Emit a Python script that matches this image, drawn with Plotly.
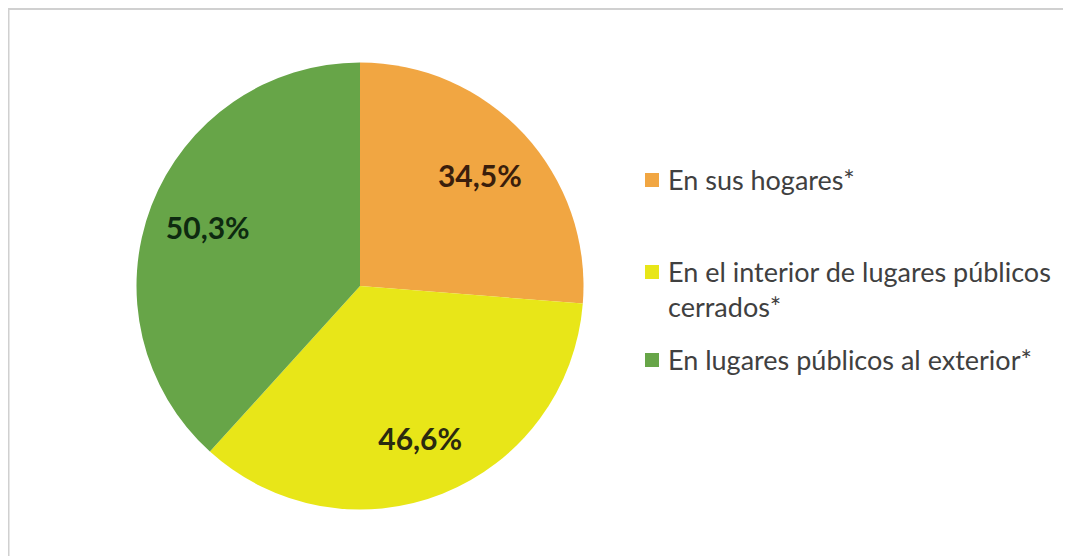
import plotly.graph_objects as go

# Data
labels = ["En sus hogares*", "En el interior de lugares públicos<br>cerrados*", "En lugares públicos al exterior*"]
values = [34.5, 46.6, 50.3]
colors = ["#F1A642", "#E8E618", "#67A548"]
label_text_colors = ["#3a1e0c", "#2a2a10", "#0e2a10"]

W, H = 1071, 556
OFF = 8  # page body margin offset (screen px -> figure px)


def px(x):
    return (x - OFF) / W


def py(y):
    return 1 - (y - OFF) / H


# Pie geometry (screen px)
cx, cy, R = 360, 286, 223.5
pie_domain = dict(x=[px(cx - R), px(cx + R)], y=[py(cy + R), py(cy - R)])

fig = go.Figure()
# Coloured slices
fig.add_trace(go.Pie(
    labels=labels, values=values, sort=False, direction="clockwise", rotation=0,
    marker=dict(colors=colors, line=dict(width=0)),
    textinfo="none", domain=pie_domain, showlegend=False,
    hoverinfo="label+value",
))
# Value labels (transparent ring so labels sit toward the outer part of each slice)
fig.add_trace(go.Pie(
    labels=labels, values=values, sort=False, direction="clockwise", rotation=0,
    hole=0.46,
    marker=dict(colors=["rgba(0,0,0,0)"] * len(values), line=dict(width=0)),
    texttemplate="%{value:.1f}%", textposition="inside",
    insidetextorientation="horizontal",
    textfont=dict(family="Lato", size=30, color=label_text_colors, weight="bold"),
    domain=pie_domain, showlegend=False, hoverinfo="skip",
))

# Manual legend (layout positions, screen px)
fs = 27
legend_line_centers = [180, 272, 360]
shapes = [
    dict(type="rect", xref="paper", yref="paper",
         x0=0.5 / W, x1=1.02, y0=-0.02, y1=1 - 1 / H,
         line=dict(color="#d0d0d0", width=2), fillcolor="rgba(0,0,0,0)"),
]
annotations = []
for lab, col, yc in zip(labels, colors, legend_line_centers):
    shapes.append(dict(type="rect", xref="paper", yref="paper",
                       x0=px(645), x1=px(659), y0=py(yc + 7), y1=py(yc - 7),
                       line=dict(width=0), fillcolor=col))
    annotations.append(dict(
        text=lab, xref="paper", yref="paper",
        x=px(667), y=py(yc - 0.65 * fs),
        xanchor="left", yanchor="top", align="left", showarrow=False,
        font=dict(family="Lato", size=fs, color="#404040"),
        borderpad=0,
    ))

fig.update_layout(
    width=W, height=H,
    margin=dict(l=0, r=0, t=0, b=0),
    paper_bgcolor="white",
    plot_bgcolor="white",
    separators=",.",
    shapes=shapes,
    annotations=annotations,
)

fig.write_html("out.html")
